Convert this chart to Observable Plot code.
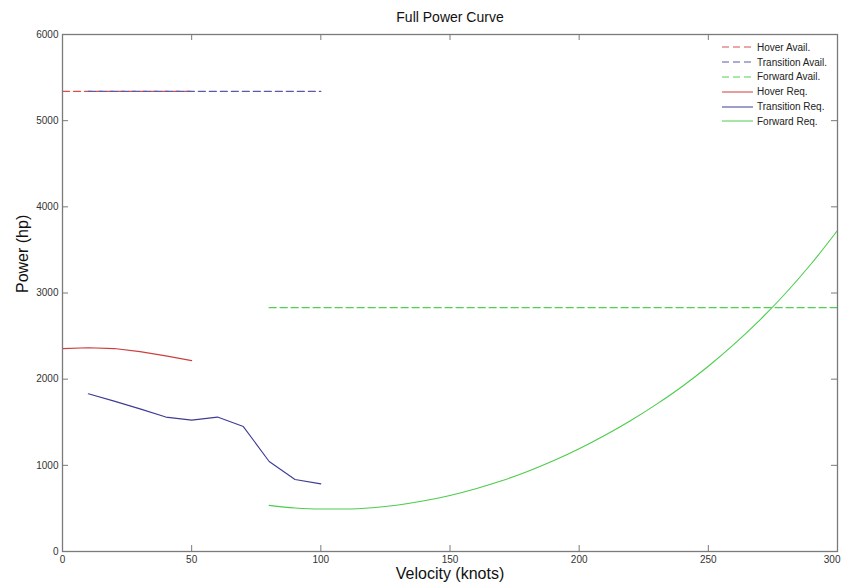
<!DOCTYPE html>
<html>
<head>
<meta charset="utf-8">
<script src="https://cdn.jsdelivr.net/npm/d3@7"></script>
<script src="https://cdn.jsdelivr.net/npm/@observablehq/plot@0.6"></script>
<style>
  html, body { margin: 0; padding: 0; background: #fff; }
  #wrap { position: relative; width: 844px; height: 588px; font-family: "Liberation Sans", Arial, sans-serif; }
  #title { position: absolute; left: 450px; top: 9px; transform: translateX(-50%); font-size: 14px; color: #111; white-space: nowrap; }
  #chart { position: absolute; left: 0; top: 26px; }
  #legend { position: absolute; left: 722px; top: 40px; font-size: 10px; color: #222; }
  .row { display: flex; align-items: center; height: 14.8px; }
  .row svg { margin-right: 4px; }
</style>
</head>
<body>
<div id="wrap">
  <div id="title">Full Power Curve</div>
  <div id="chart"></div>
  <div id="legend"></div>
</div>
<script>
// ---- data ----
const hoverVel = [0, 10, 20, 30, 40, 50];
const hoverReq = [2355, 2365, 2355, 2320, 2270, 2215];
const hoverAvail = [5340, 5340, 5340, 5340, 5340, 5340];

const transVel = [10, 20, 30, 40, 50, 60, 70, 80, 90, 100];
const transReq = [1830, 1745, 1655, 1560, 1525, 1560, 1450, 1045, 835, 785];
const transAvail = [5340, 5340, 5340, 5340, 5340, 5340, 5340, 5340, 5340, 5340];

const fwdVel = [80, 90, 100, 110, 120, 130, 140, 150, 160, 170, 180, 190, 200, 210, 220, 230, 240, 250, 260, 270, 280, 290, 300];
const fwdReq = [535, 505, 493, 493, 508, 540, 588, 650, 728, 820, 928, 1052, 1192, 1348, 1520, 1710, 1918, 2150, 2406, 2688, 3000, 3345, 3725];
const fwdAvail = [2830, 2830, 2830, 2830, 2830, 2830, 2830, 2830, 2830, 2830, 2830, 2830, 2830, 2830, 2830, 2830, 2830, 2830, 2830, 2830, 2830, 2830, 2830];

const xTicks = [0, 50, 100, 150, 200, 250, 300];
const yTicks = [0, 1000, 2000, 3000, 4000, 5000, 6000];

const seriesNames = ["Hover Avail.", "Transition Avail.", "Forward Avail.", "Hover Req.", "Transition Req.", "Forward Req."];
const seriesColors = ["#d45050", "#5a5aa8", "#4fd24f", "#cc3f3f", "#3c3c96", "#4ccc4c"];
const seriesDashed = [true, true, true, false, false, false];
const seriesCurve = ["linear", "linear", "linear", "linear", "linear", "monotone-x"];

// ---- build tables ----
const toRows = (vel, vals) => vel.map((v, i) => ({v, p: vals[i]}));
const tables = [
  toRows(hoverVel, hoverAvail), toRows(transVel, transAvail), toRows(fwdVel, fwdAvail),
  toRows(hoverVel, hoverReq), toRows(transVel, transReq), toRows(fwdVel, fwdReq)
];

const tickLen = 6;
const xMax = 300, yMax = 6000;
const frameStroke = "#7a7a7a";

const lineMarks = tables.map((t, i) => Plot.line(t, {
  x: "v", y: "p", stroke: seriesColors[i], curve: seriesCurve[i],
  strokeWidth: seriesDashed[i] ? 1.4 : 1.1,
  strokeDasharray: seriesDashed[i] ? "7,4" : null
}));

const fmt = d3.format("d");

const chart = Plot.plot({
  width: 844,
  height: 562,
  marginTop: 8,
  marginLeft: 62,
  marginRight: 7,
  marginBottom: 37,
  x: {domain: [0, xMax]},
  y: {domain: [0, yMax]},
  style: {fontFamily: "Liberation Sans, Arial, sans-serif", fontSize: "10px", color: "#333", background: "white"},
  marks: [
    Plot.axisX({ticks: xTicks.slice(0, -1), tickSize: 0, tickPadding: 4, label: null, tickFormat: fmt}),
    Plot.axisX({ticks: xTicks.slice(-1), tickSize: 0, tickPadding: 4, label: null, tickFormat: fmt, textAnchor: "end", dx: 3}),
    Plot.axisY({ticks: yTicks, tickSize: 0, tickPadding: 4, label: null, tickFormat: fmt}),
    // inward ticks on all four sides (MATLAB style)
    Plot.tickX(xTicks, {x: d => d, stroke: frameStroke, insetTop: 517 - tickLen}),
    Plot.tickX(xTicks, {x: d => d, stroke: frameStroke, insetBottom: 517 - tickLen}),
    Plot.tickY(yTicks, {y: d => d, stroke: frameStroke, insetRight: 775 - tickLen}),
    Plot.tickY(yTicks, {y: d => d, stroke: frameStroke, insetLeft: 775 - tickLen}),
    ...lineMarks,
    Plot.frame({stroke: frameStroke, strokeWidth: 1.3}),
    Plot.text(["Velocity (knots)"], {frameAnchor: "bottom", dy: 27, fontSize: 16, fill: "#111", text: d => d}),
    Plot.text(["Power (hp)"], {frameAnchor: "left", dx: -40, rotate: -90, fontSize: 16, fill: "#111", text: d => d})
  ]
});
document.getElementById("chart").appendChild(chart);

// ---- legend (no box, inside top-right) ----
const legend = document.getElementById("legend");
seriesNames.forEach((name, i) => {
  const row = document.createElement("div");
  row.className = "row";
  const ns = "http://www.w3.org/2000/svg";
  const s = document.createElementNS(ns, "svg");
  s.setAttribute("width", 31); s.setAttribute("height", 6);
  const l = document.createElementNS(ns, "line");
  l.setAttribute("x1", 0); l.setAttribute("x2", 31); l.setAttribute("y1", 3); l.setAttribute("y2", 3);
  l.setAttribute("stroke", seriesColors[i]); l.setAttribute("stroke-width", 1);
  if (seriesDashed[i]) l.setAttribute("stroke-dasharray", "7,4");
  s.appendChild(l);
  row.appendChild(s);
  const t = document.createElement("span");
  t.textContent = name;
  row.appendChild(t);
  legend.appendChild(row);
});
</script>
</body>
</html>
